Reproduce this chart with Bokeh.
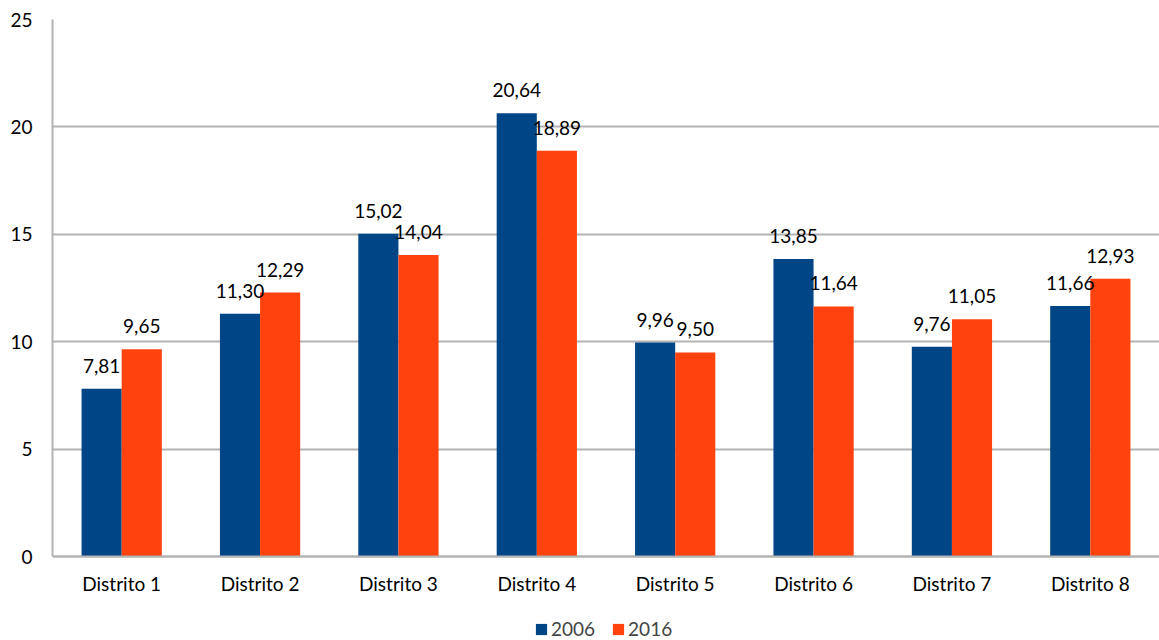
from bokeh.plotting import figure
from bokeh.models import ColumnDataSource, FactorRange, Legend, LegendItem, SingleIntervalTicker, Range1d
from bokeh.transform import dodge
from bokeh.embed import file_html
from bokeh.resources import INLINE

categories = ["Distrito 1", "Distrito 2", "Distrito 3", "Distrito 4",
              "Distrito 5", "Distrito 6", "Distrito 7", "Distrito 8"]
values_2006 = [7.81, 11.30, 15.02, 20.64, 9.96, 13.85, 9.76, 11.66]
values_2016 = [9.65, 12.29, 14.04, 18.89, 9.50, 11.64, 11.05, 12.93]
series_names = ["2006", "2016"]
y_max = 25

def fmt(v):
    return f"{v:.2f}".replace(".", ",")

src = ColumnDataSource(dict(
    cat=categories,
    v06=values_2006,
    v16=values_2016,
    l06=[fmt(v) for v in values_2006],
    l16=[fmt(v) for v in values_2016],
))

FONT = "Lato"
BLUE = "#004586"
ORANGE = "#ff420e"
GRID = "#b3b3b3"

# frame extends below the zero line to leave room for the legend (84px)
PX_PER_UNIT = 537 / y_max
p = figure(x_range=FactorRange(factors=categories, range_padding=0),
           y_range=Range1d(-84 / PX_PER_UNIT, y_max),
           frame_width=1107, frame_height=621,
           output_backend="svg", toolbar_location=None,
           min_border_left=52, min_border_right=0, min_border_top=19,
           min_border_bottom=0)
p.outline_line_color = None
p.background_fill_color = "white"

r1 = p.vbar(x=dodge("cat", -0.145, range=p.x_range), top="v06", width=0.29,
            source=src, fill_color=BLUE, line_color=None)
r2 = p.vbar(x=dodge("cat", 0.145, range=p.x_range), top="v16", width=0.29,
            source=src, fill_color=ORANGE, line_color=None)

for xo, col, lab in [(-0.145, "v06", "l06"), (0.145, "v16", "l16")]:
    p.text(x=dodge("cat", xo, range=p.x_range), y=col, text=lab, source=src,
           text_align="center", text_baseline="middle", y_offset=-23,
           text_font={"value": FONT}, text_font_size="19px", text_color="black")

p.yaxis.ticker = SingleIntervalTicker(interval=5)
p.yaxis.bounds = (0, y_max)
p.ygrid.grid_line_color = GRID
p.ygrid.grid_line_width = 2
p.ygrid.bounds = (0, y_max)
p.xgrid.grid_line_color = None

p.xaxis.fixed_location = 0
for ax in (p.xaxis, p.yaxis):
    ax.axis_line_color = GRID
    ax.axis_line_width = 2
    ax.major_tick_line_color = None
    ax.minor_tick_line_color = None
    ax.major_label_text_font = FONT
    ax.major_label_text_font_size = "19px"
    ax.major_label_text_color = "black"
p.yaxis.major_label_standoff = 14
p.xaxis.major_label_standoff = 9

legend = Legend(items=[LegendItem(label=series_names[0], renderers=[r1]),
                       LegendItem(label=series_names[1], renderers=[r2])],
                orientation="horizontal", location=(482, 0),
                label_text_font=FONT, label_text_font_size="19px",
                glyph_width=14, glyph_height=14, spacing=16, label_standoff=3,
                border_line_color=None, background_fill_alpha=0,
                padding=0, margin=0)
p.add_layout(legend, "center")

open("out.html", "w").write(file_html(p, INLINE))
